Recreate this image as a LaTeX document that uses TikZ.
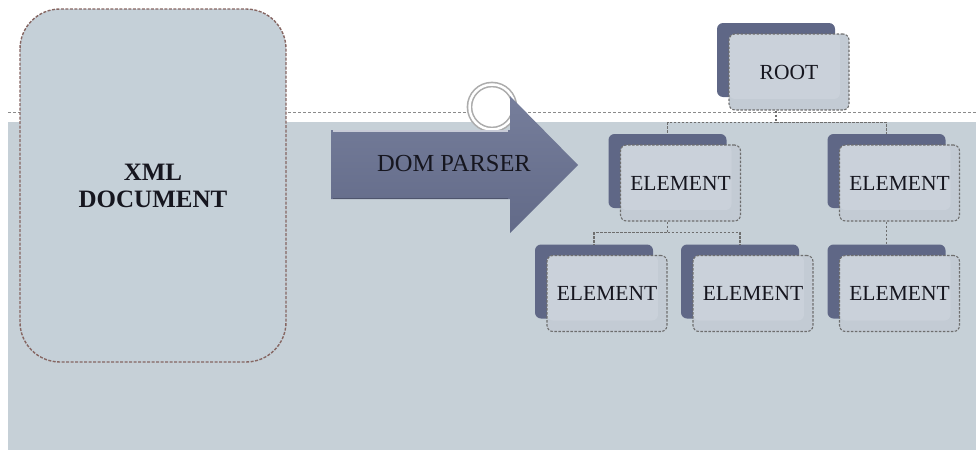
\documentclass[tikz,border=0pt]{standalone}
\usepackage{fontspec}
\setmainfont{Liberation Serif}
\usetikzlibrary{calc}

\definecolor{bandfill}{HTML}{C6D0D7}
\definecolor{docfill}{HTML}{C5D0D8}
\definecolor{docline}{HTML}{866662}
\definecolor{slate}{HTML}{5F6786}
\definecolor{frontfill}{HTML}{C3CBD4}
\definecolor{innerfill}{HTML}{CAD1DA}
\definecolor{connline}{HTML}{6E6E6E}
\definecolor{inktext}{HTML}{16161F}
\definecolor{arrowtop}{HTML}{767E9B}
\definecolor{arrowbot}{HTML}{626A88}

\tikzset{
  backbox/.style={fill=slate, draw=none, rounded corners=6pt,
    minimum width=118pt, minimum height=74pt, inner sep=0pt},
  frontbox/.style={fill=frontfill, draw=connline, line width=1.1pt,
    dash pattern=on 2.5pt off 1.5pt, rounded corners=6pt,
    minimum width=120pt, minimum height=76pt, inner sep=0pt,
    text=inktext, font=\fontsize{21.5}{24}\selectfont,
    path picture={\fill[innerfill]
      (path picture bounding box.north west) rectangle
      ([xshift=-9pt,yshift=11pt]path picture bounding box.south east);}},
  conn/.style={draw=connline, line width=1.1pt, dash pattern=on 2.5pt off 1.5pt},
}

% one org-chart entry: dark back card plus light dashed front card
\newcommand\orgbox[4]{%
  \node[backbox] (#1b) at ({#2-13},{#3-12}) {};
  \node[frontbox] (#1) at (#2,#3) {#4};}

\begin{document}
\begin{tikzpicture}[x=1pt,y=-1pt]
\useasboundingbox (0,0) rectangle (976,450);

% background band and its dashed top rule
\fill[bandfill] (8,122) rectangle (976,450);
\draw[connline!80, line width=0.9pt, dash pattern=on 3pt off 2pt] (8,112) -- (976,112);

% source document
\draw[fill=docfill, draw=docline, line width=1.4pt, dash pattern=on 3pt off 1.5pt,
  rounded corners=40pt] (20,9) rectangle (286,362);
\node[align=center, text=inktext, font=\bfseries\fontsize{25}{27}\selectfont]
  (xmldoc) at (153,185.5) {XML\\DOCUMENT};

% ring handle behind the arrow
\draw[draw=gray!65, line width=1.6pt, double=white, double distance=2.5pt, fill=white]
  (492,107) circle (22.5);

% parser arrow
\shade[top color=arrowtop, bottom color=arrowbot]
  (331,130) -- (510,130) -- (510,96) -- (578,165) -- (510,233) -- (510,199)
  -- (331,199) -- cycle;
\draw[white!60!arrowtop, line width=1.2pt] (333,131) -- (508,131);
\draw[arrowbot!80!black, line width=1pt] (333,198.5) -- (508,198.5);
\node[text=inktext, font=\fontsize{24.5}{27}\selectfont] (parser) at (454,164) {DOM PARSER};

% hierarchy cards
\orgbox{root}{789}{72}{ROOT}
\orgbox{eA}{680.5}{183}{ELEMENT}
\orgbox{eB}{899.5}{183}{ELEMENT}
\orgbox{eC}{607}{293.5}{ELEMENT}
\orgbox{eD}{753}{293.5}{ELEMENT}
\orgbox{eE}{899.5}{293.5}{ELEMENT}

% connectors, from each parent card down to its children's back cards
\draw[conn] (rootb.center |- root.south) -- ++(0,12) coordinate (busA) -| (eAb.north);
\draw[conn] (busA) -| (eBb.north);
\draw[conn] (eAb.center |- eA.south) -- ++(0,11) coordinate (busB) -| (eCb.north);
\draw[conn] (busB) -| (eDb.north);
\draw[conn] (eBb.center |- eB.south) -- (eEb.north);
\end{tikzpicture}
\end{document}
